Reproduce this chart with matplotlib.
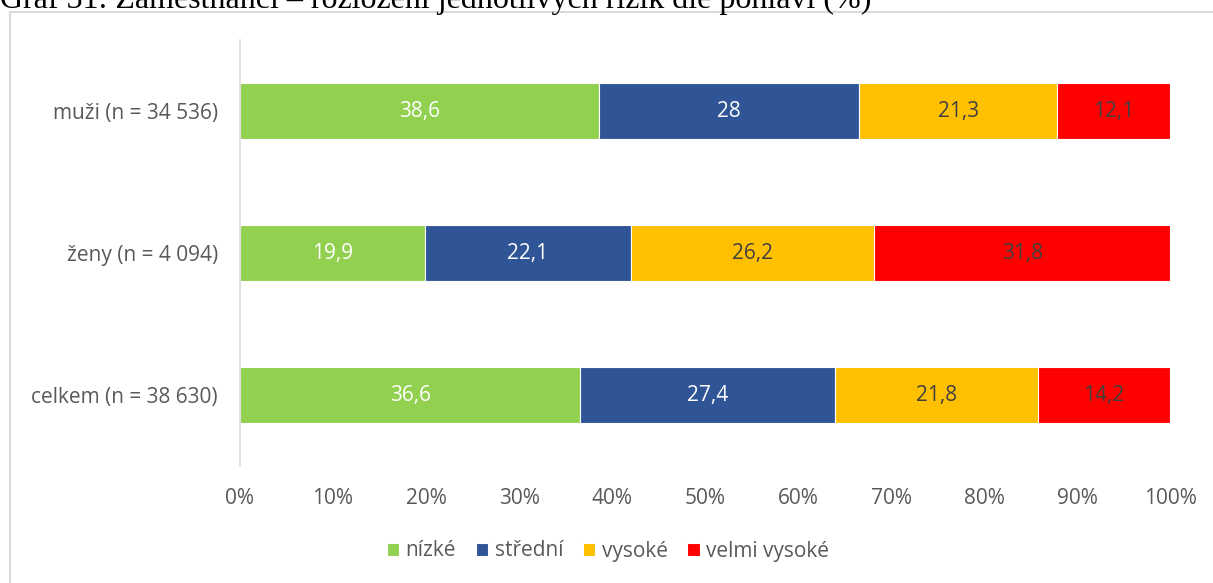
import numpy as np
import matplotlib
matplotlib.use("Agg")
from matplotlib import pyplot as plt
from matplotlib.lines import Line2D


# DATA
skupiny = ["muži (n = 34 536)", "ženy (n = 4 094)", "celkem (n = 38 630)"]
nizke = [38.6, 19.9, 36.6]
stredni = [28.0, 22.1, 27.4]
vysoke = [21.3, 26.2, 21.8]
velmi_vysoke = [12.1, 31.8, 14.2]

popisky_rad = ["nízké", "střední", "vysoké", "velmi vysoké"]
x_ticks = [0, 10, 20, 30, 40, 50, 60, 70, 80, 90, 100]

nadpis = "Graf 31: Zaměstnanci – rozložení jednotlivých rizik dle pohlaví (%)"


# STYLE
barvy = ["#92D050", "#2F5597", "#FFC000", "#FF0000"]
barvy_textu = ["white", "white", "#404040", "#404040"]
seda_text = "#595959"
seda_cara = "#D9D9D9"
font_size = 15

plt.rcParams["font.family"] = ["Open Sans", "DejaVu Sans"]

W, H = 1213, 583
fig = plt.figure(figsize=(W / 100, H / 100), dpi=100)
ax = fig.add_axes([240 / W, 1 - 466 / H, (1170 - 240) / W, (466 - 40) / H])

y = np.arange(len(skupiny))
rady = [nizke, stredni, vysoke, velmi_vysoke]
left = np.zeros(len(skupiny))
for hodnoty, barva, barva_t, popis in zip(rady, barvy, barvy_textu, popisky_rad):
    hodnoty = np.array(hodnoty)
    bars = ax.barh(y, hodnoty, left=left, height=0.4, color=barva,
                   edgecolor="white", linewidth=0.8, label=popis)
    ax.bar_label(bars, labels=[("%g" % v).replace(".", ",") for v in hodnoty],
                 label_type="center", color=barva_t, fontsize=font_size)
    left = left + hodnoty

ax.set_ylim(2.5, -0.5)
ax.set_xlim(0, 100)
ax.set_yticks(y)
ax.set_yticklabels(skupiny)
ax.set_xticks(x_ticks)
ax.set_xticklabels(["%d%%" % t for t in x_ticks])
ax.tick_params(axis="both", length=0, labelsize=font_size, labelcolor=seda_text)
ax.tick_params(axis="x", pad=16)
ax.tick_params(axis="y", pad=16)
for s in ["top", "right", "bottom"]:
    ax.spines[s].set_visible(False)
ax.spines["left"].set_color(seda_cara)
ax.spines["left"].set_linewidth(1.2)

fig.legend(loc="center", bbox_to_anchor=(608 / W, 1 - 551 / H), ncol=4,
           frameon=False, fontsize=font_size, labelcolor=seda_text,
           handlelength=0.6, handleheight=0.6, handletextpad=0.3,
           columnspacing=0.95)

# frame of the chart area (cut by the picture edge)
fig.add_artist(Line2D([10 / W, 10 / W, 1.01], [-0.01, 1 - 12 / H, 1 - 12 / H],
                      transform=fig.transFigure, color=seda_cara, linewidth=1.5))

# title, mostly cut away at the top
fig.text(0 / W, 1 - 8 / H, nadpis, family="Liberation Serif", fontsize=23,
         color="black", ha="left", va="baseline")

fig.savefig("out.png", dpi=100, facecolor="white")
